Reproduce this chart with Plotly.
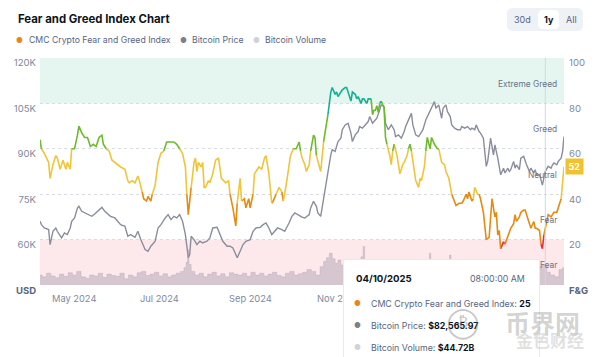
import plotly.graph_objects as go
import pandas as pd

# ---------------- data ----------------
DAY0 = "2024-04-24"          # first day shown (1y window)
X_END = "2025-04-23"

# CMC Crypto Fear & Greed index: day offset from DAY0 and value
fg_day = [0, 1, 3, 6, 7, 9, 11, 12, 14, 16,
          18, 19, 21, 22, 24, 26, 27, 29, 31, 33,
          35, 37, 39, 41, 43, 44, 46, 48, 50, 52,
          54, 56, 59, 61, 62, 64, 66, 68, 69, 71,
          72, 74, 75, 77, 78, 80, 82, 84, 86, 88,
          90, 93, 95, 97, 99, 101, 102, 103, 105, 107,
          108, 109, 110, 112, 113, 114, 115, 117, 118, 120,
          122, 124, 126, 129, 131, 132, 134, 136, 137, 139,
          140, 142, 143, 145, 146, 148, 149, 152, 154, 156,
          157, 159, 161, 162, 164, 166, 168, 169, 171, 174,
          176, 178, 180, 181, 182, 184, 185, 187, 188, 190,
          191, 192, 194, 195, 197, 199, 200, 202, 203, 205,
          206, 207, 209, 210, 212, 213, 214, 216, 217, 219,
          220, 221, 223, 224, 225, 227, 228, 230, 231, 232,
          233, 234, 235, 236, 237, 239, 240, 241, 243, 244,
          245, 246, 248, 249, 250, 252, 253, 255, 256, 257,
          258, 260, 261, 263, 264, 265, 267, 268, 269, 271,
          272, 274, 276, 277, 279, 281, 282, 284, 285, 286,
          288, 289, 291, 293, 294, 296, 297, 298, 300, 301,
          302, 304, 305, 306, 308, 309, 310, 312, 313, 314,
          316, 317, 318, 319, 320, 322, 323, 325, 326, 327,
          329, 330, 331, 333, 334, 336, 337, 338, 340, 341,
          343, 344, 345, 347, 348, 349, 350, 351, 353, 355,
          356, 357, 359, 360, 362, 363, 364]
fg_val = [64, 60, 58, 54, 47, 53, 57, 56, 51, 55,
          51, 54, 51, 60, 60, 66, 70, 67, 65, 65,
          61, 62, 61, 65, 66, 62, 60, 59, 55, 54,
          53, 52, 51, 46, 45, 46, 45, 48, 46, 41,
          38, 37, 39, 37, 40, 44, 54, 58, 59, 63,
          63, 63, 62, 60, 58, 52, 40, 31, 43, 54,
          56, 50, 54, 52, 54, 43, 43, 46, 45, 49,
          55, 56, 47, 45, 46, 40, 34, 26, 36, 47,
          37, 38, 34, 38, 34, 40, 49, 52, 51, 56,
          57, 49, 36, 37, 40, 43, 41, 37, 44, 57,
          60, 60, 63, 59, 56, 53, 50, 53, 59, 66,
          65, 57, 53, 50, 63, 72, 75, 85, 87, 84,
          85, 83, 85, 86, 87, 87, 85, 81, 85, 84,
          82, 83, 80, 82, 82, 80, 82, 82, 75, 77,
          77, 79, 76, 80, 81, 78, 65, 62, 57, 53,
          59, 62, 57, 53, 49, 53, 54, 57, 60, 62,
          59, 50, 46, 43, 47, 46, 52, 59, 65, 60,
          65, 62, 60, 60, 54, 53, 50, 47, 43, 40,
          36, 35, 36, 36, 37, 40, 38, 41, 37, 38,
          43, 40, 40, 38, 32, 24, 20, 21, 30, 38,
          30, 32, 22, 24, 16, 19, 18, 22, 24, 25,
          27, 31, 28, 30, 32, 33, 33, 31, 27, 25,
          28, 25, 25, 24, 18, 16, 22, 25, 31, 30,
          31, 32, 32, 34, 38, 45, 52]

# Bitcoin price (USD)
btc_day = [0, 1, 3, 6, 7, 9, 11, 12, 15, 17,
           19, 21, 22, 24, 26, 27, 29, 31, 33, 36,
           38, 40, 43, 45, 47, 49, 52, 54, 56, 59,
           61, 63, 66, 68, 70, 73, 75, 77, 80, 82,
           84, 87, 89, 91, 93, 95, 97, 99, 101, 103,
           104, 105, 107, 109, 111, 113, 116, 118, 120, 123,
           125, 127, 130, 132, 134, 137, 139, 141, 143, 146,
           148, 150, 153, 155, 157, 159, 161, 163, 165, 168,
           170, 173, 175, 177, 179, 182, 184, 187, 188, 190,
           192, 193, 195, 197, 198, 200, 202, 203, 205, 207,
           209, 210, 212, 214, 216, 217, 219, 221, 222, 224,
           226, 228, 229, 231, 232, 234, 236, 237, 239, 240,
           242, 244, 246, 247, 249, 251, 253, 254, 256, 258,
           259, 261, 263, 265, 266, 268, 270, 272, 273, 274,
           275, 277, 279, 280, 282, 283, 285, 286, 288, 290,
           292, 293, 295, 297, 299, 300, 302, 303, 305, 306,
           308, 309, 310, 311, 312, 313, 315, 316, 318, 319,
           320, 322, 323, 325, 326, 327, 329, 330, 331, 333,
           334, 336, 337, 338, 340, 341, 343, 344, 345, 347,
           348, 349, 350, 351, 353, 355, 356, 357, 359, 360,
           362, 363, 364]
btc_val = [66050, 64950, 63850, 63300, 58350, 62750, 63850, 62750, 60550, 62200,
           61650, 63850, 66050, 67150, 70450, 71000, 69350, 68800, 68450, 67700,
           68450, 69350, 70650, 69350, 68450, 67700, 67150, 66050, 64950, 64400,
           61100, 61650, 60750, 62750, 60000, 56700, 56150, 57800, 59450, 63850,
           64950, 67150, 68250, 66600, 67700, 67150, 68250, 66050, 61650, 54000,
           55050, 61100, 60000, 58350, 59450, 58900, 59450, 60550, 63850, 64050,
           61650, 59450, 57800, 57800, 57250, 54000, 56150, 58350, 59450, 60000,
           62750, 63850, 64050, 64950, 65500, 63850, 61650, 62750, 63850, 63300,
           62750, 65500, 67700, 68800, 68250, 67400, 67150, 68250, 70450, 72650,
           71000, 68800, 67700, 73750, 77050, 82550, 88000, 89700, 89100, 92400,
           93500, 96300, 97900, 98450, 95200, 92400, 94600, 95700, 97350, 96800,
           97900, 99000, 100650, 98450, 99000, 100100, 102850, 104500, 104000, 98450,
           96300, 97900, 96300, 94050, 94600, 93500, 95700, 97350, 99550, 101700,
           97900, 94600, 94050, 95700, 96300, 99550, 101700, 104000, 104500, 105600,
           103400, 104500, 100100, 103400, 104500, 102300, 100650, 97900, 96800, 96300,
           96300, 97350, 96800, 97350, 96300, 96800, 96300, 97900, 95700, 95200,
           93500, 89100, 84200, 85850, 89100, 93500, 88000, 91300, 86900, 84700,
           81400, 83600, 82000, 83600, 82550, 83100, 85850, 83600, 84700, 83100,
           86900, 87500, 85850, 84700, 82550, 83600, 82000, 83100, 81400, 81400,
           79750, 78000, 80300, 82565.97, 84200, 83600, 84700, 85300, 84700, 85850,
           86900, 89100, 94050]

# Bitcoin volume (billions USD)
vol_day = [0, 3, 6, 9, 12, 15, 18, 21, 24, 27,
           30, 33, 36, 39, 42, 45, 48, 51, 54, 57,
           60, 63, 66, 69, 72, 75, 78, 81, 84, 87,
           90, 93, 96, 99, 101, 102, 103, 104, 106, 109,
           112, 115, 118, 121, 124, 127, 130, 133, 136, 139,
           142, 145, 148, 151, 154, 157, 160, 163, 166, 169,
           172, 175, 178, 181, 184, 187, 190, 193, 196, 198,
           200, 202, 204, 206, 208, 210, 212, 214, 217, 220,
           222, 224, 225, 226, 228, 231, 234, 237, 240, 243,
           246, 249, 252, 255, 258, 261, 264, 267, 270, 271,
           272, 275, 278, 281, 284, 285, 286, 289, 292, 295,
           298, 301, 304, 307, 309, 312, 315, 318, 321, 324,
           327, 330, 333, 336, 339, 342, 345, 347, 348, 350,
           351, 353, 356, 359, 362, 364]
vol_bn = [22, 18, 26, 20, 16, 24, 19, 27, 22, 30,
          18, 15, 22, 20, 26, 17, 24, 21, 19, 26,
          14, 22, 18, 27, 30, 21, 24, 28, 20, 25,
          18, 22, 26, 30, 38, 50, 78, 45, 30, 22,
          26, 18, 24, 28, 20, 25, 18, 27, 24, 22,
          26, 19, 28, 22, 26, 20, 24, 28, 21, 18,
          26, 30, 22, 25, 28, 34, 30, 22, 40, 52,
          60, 70, 58, 48, 55, 44, 50, 40, 46, 38,
          50, 62, 85, 55, 42, 48, 36, 44, 52, 30,
          34, 28, 30, 36, 40, 34, 30, 36, 50, 70,
          48, 34, 38, 30, 44, 66, 48, 32, 28, 22,
          24, 20, 30, 45, 52, 40, 38, 34, 26, 30,
          22, 20, 18, 24, 20, 22, 28, 34, 40, 44,
          44.72, 28, 22, 18, 34, 38]

x_tick_dates = ["2024-05-01", "2024-07-01", "2024-09-01", "2024-11-01", "2025-01-01", "2025-03-01"]
x_tick_text = ["May 2024", "Jul 2024", "Sep 2024", "Nov 2024", "Jan 2025", "Mar 2025"]
price_ticks = [60000, 75000, 90000, 105000, 120000]
price_tick_text = ["60K", "75K", "90K", "105K", "120K"]
fg_ticks = [20, 40, 60, 80, 100]
band_edges = [0, 20, 40, 60, 80, 100]
band_names = ["Extreme Fear", "Fear", "Neutral", "Greed", "Extreme Greed"]
band_colors = ["#e3313c", "#e38b13", "#efc53a", "#6dbb2d", "#16b093"]

hover_date = "2025-04-10"
hover_date_text = "04/10/2025"
hover_time = "08:00:00 AM"
hover_fg = 25
hover_price = "$82,565.97"
hover_vol = "$44.72B"
current_fg = 52

# ---------------- helpers ----------------
FONT = "Inter"
C_DARK = "#0d1421"
C_GREY = "#58667e"
C_TICK = "#808a9d"
C_FG = "#e8861a"
C_PRICE = "#8a8e9c"
C_VOL = "#cfd2da"

W, H = 600, 357
ML, MR, MT, MB = 40, 36, 58, 72
PW, PH = W - ML - MR, H - MT - MB


def px2x(px):
    return (px - ML) / PW


def py2y(py):
    return (H - MB - py) / PH


def to_dates(days):
    return list(pd.Timestamp(DAY0) + pd.to_timedelta(days, unit="D"))


fg_x = to_dates(fg_day)
btc_x = to_dates(btc_day)
vol_x = to_dates(vol_day)


def band_of(v):
    for i in range(len(band_names)):
        if v < band_edges[i + 1]:
            return i
    return len(band_names) - 1


fig = go.Figure()

# volume (hidden axis y2)
fig.add_trace(go.Scatter(
    x=vol_x, y=vol_bn, yaxis="y2", mode="lines", line=dict(width=0.6, color="rgba(160,150,168,0.45)", shape="hvh"),
    fill="tozeroy", fillcolor="rgba(160,150,168,0.42)", hoverinfo="skip", showlegend=False))

# bitcoin price (y)
fig.add_trace(go.Scatter(
    x=btc_x, y=btc_val, yaxis="y", mode="lines", line=dict(width=1.4, color=C_PRICE),
    hoverinfo="skip", showlegend=False))

# fear & greed line coloured by band (y3)
seg_x = {b: [] for b in range(5)}
seg_y = {b: [] for b in range(5)}
last_end = {b: None for b in range(5)}
for i in range(len(fg_val) - 1):
    b = band_of((fg_val[i] + fg_val[i + 1]) / 2)
    if last_end[b] == i:
        seg_x[b].append(fg_x[i + 1])
        seg_y[b].append(fg_val[i + 1])
    else:
        if seg_x[b]:
            seg_x[b].append(None)
            seg_y[b].append(None)
        seg_x[b] += [fg_x[i], fg_x[i + 1]]
        seg_y[b] += [fg_val[i], fg_val[i + 1]]
    last_end[b] = i + 1
for b in range(5):
    fig.add_trace(go.Scatter(
        x=seg_x[b], y=seg_y[b], yaxis="y3", mode="lines", connectgaps=False,
        line=dict(width=1.6, color=band_colors[b]), hoverinfo="skip", showlegend=False))

# ---------------- shapes ----------------
shapes = [
    dict(type="rect", xref="paper", yref="y3", x0=0, x1=1, y0=band_edges[4], y1=band_edges[5],
         fillcolor="#e5f6f0", line=dict(width=0), layer="below"),
    dict(type="rect", xref="paper", yref="y3", x0=0, x1=1, y0=band_edges[0], y1=band_edges[1],
         fillcolor="#fde9ec", line=dict(width=0), layer="below"),
    dict(type="line", xref="x", yref="paper", x0=hover_date, x1=hover_date, y0=0, y1=1,
         line=dict(color="#d3d7de", width=1), layer="above"),
]


def rrect(x0, y0, x1, y1, r):
    pts = [("M", x0 + r, y0), ("L", x1 - r, y0), ("Q", x1, y0, x1, y0 + r), ("L", x1, y1 - r),
           ("Q", x1, y1, x1 - r, y1), ("L", x0 + r, y1), ("Q", x0, y1, x0, y1 - r), ("L", x0, y0 + r),
           ("Q", x0, y0, x0 + r, y0)]
    out = []
    for p in pts:
        cmd = p[0]
        coords = p[1:]
        s = " ".join(f"{px2x(coords[k]):.5f},{py2y(coords[k + 1]):.5f}" for k in range(0, len(coords), 2))
        out.append(f"{cmd} {s}")
    return " ".join(out) + " Z"


shapes.append(dict(type="path", xref="paper", yref="paper", path=rrect(507, 8, 583, 31, 6),
                   fillcolor="#eef1f5", line=dict(width=0)))
shapes.append(dict(type="path", xref="paper", yref="paper", path=rrect(538, 10, 559, 29, 5),
                   fillcolor="#ffffff", line=dict(width=0)))


# ---------------- annotations ----------------
def ann(text, px, py, size=9.5, color=C_GREY, xanchor="left", family=FONT, **kw):
    d = dict(xref="paper", yref="paper", x=px2x(px), y=py2y(py), text=text, showarrow=False,
             xanchor=xanchor, yanchor="middle", font=dict(family=family, size=size, color=color))
    d.update(kw)
    return d


annotations = []
# title + legend
annotations.append(ann("<b>Fear and Greed Index Chart</b>", 16, 19.5, size=11.4, color=C_DARK))
for dot_px, txt_px, col, label in [(19, 27, C_FG, "CMC Crypto Fear and Greed Index"),
                                   (183, 190, "#7b7f8e", "Bitcoin Price"),
                                   (256, 263, C_VOL, "Bitcoin Volume")]:
    annotations.append(ann("●", dot_px, 40, size=7.5, color=col, xanchor="center"))
    annotations.append(ann(label, txt_px, 40, size=8.7, color=C_GREY))
# range buttons
annotations.append(ann("30d", 522, 19.5, size=9, color=C_GREY, xanchor="center"))
annotations.append(ann("<b>1y</b>", 548.5, 19.5, size=9, color=C_DARK, xanchor="center"))
annotations.append(ann("All", 571, 19.5, size=9, color=C_GREY, xanchor="center"))
# axis unit labels
annotations.append(ann("<b>USD</b>", 38, 290, size=9.5, color=C_GREY, xanchor="right"))
annotations.append(ann("<b>F&G</b>", 567, 290, size=9.5, color=C_GREY, xanchor="left"))
# x tick labels (left aligned at the month start)
for d, t in zip(x_tick_dates, x_tick_text):
    annotations.append(dict(xref="x", yref="paper", x=d, y=0, yanchor="top", xanchor="left", yshift=-6,
                            text=t, showarrow=False, font=dict(family=FONT, size=9.3, color=C_TICK)))
# band labels
for i, name in enumerate(band_names):
    mid = (band_edges[i] + band_edges[i + 1]) / 2
    annotations.append(dict(xref="paper", yref="y3", x=1, y=mid, xanchor="right", yanchor="middle",
                            xshift=-5, yshift=-3, text=name, showarrow=False,
                            font=dict(family=FONT, size=8.4, color="#6b7384")))
# current value badge
annotations.append(dict(xref="paper", yref="y3", x=1, y=current_fg, xanchor="left", yanchor="middle",
                        xshift=1, text=f"<b>{current_fg}</b>", showarrow=False, bgcolor="#f2c12e",
                        borderpad=2, width=13, font=dict(family=FONT, size=9, color="#ffffff")))
# tooltip box
annotations.append(dict(xref="paper", yref="paper", x=px2x(343), y=py2y(259), xanchor="left", yanchor="top",
                        text=" ", showarrow=False, width=195, height=100, bgcolor="#ffffff",
                        bordercolor="#e8eaef", borderwidth=1, borderpad=0, font=dict(size=10)))
annotations.append(ann(f"<b>{hover_date_text}</b>", 354, 278, size=9.6, color=C_DARK))
annotations.append(ann(hover_time, 527, 278, size=8.8, color=C_GREY, xanchor="right"))
rows = [(C_FG, "CMC Crypto Fear and Greed Index: ", f"{hover_fg}", 303),
        ("#7b7f8e", "Bitcoin Price: ", hover_price, 325),
        (C_VOL, "Bitcoin Volume: ", hover_vol, 347)]
for col, lab, val, py in rows:
    annotations.append(ann("●", 357, py, size=7.5, color=col, xanchor="center"))
    annotations.append(ann(f"{lab}<b><span style='color:{C_DARK}'>{val}</span></b>", 369, py, size=8.8,
                           color=C_GREY))
# watermark
CJK = "Noto Sans CJK SC"
annotations.append(ann("◯", 463, 322, size=30, color="rgba(110,110,110,0.38)", xanchor="center", family="DejaVu Sans"))
annotations.append(ann("₿", 463, 322, size=15, color="rgba(110,110,110,0.42)", xanchor="center", family="DejaVu Sans"))
annotations.append(ann("<b>币界网</b>", 542, 322, size=25, color="rgba(120,120,120,0.32)", xanchor="center", family=CJK))
annotations.append(ann("<b>金色财经</b>", 550, 339, size=17, color="rgba(200,200,200,0.55)", xanchor="center", family=CJK))

fig.update_layout(
    width=W, height=H, autosize=False,
    margin=dict(l=ML, r=MR, t=MT, b=MB, pad=0),
    paper_bgcolor="#ffffff", plot_bgcolor="#ffffff",
    font=dict(family=FONT, color=C_GREY),
    showlegend=False, hovermode=False,
    xaxis=dict(type="date", range=[DAY0, X_END], showgrid=False, zeroline=False, showline=False,
               showticklabels=False, ticks="", fixedrange=True),
    yaxis=dict(range=[45000, 120000], tickvals=price_ticks, ticktext=price_tick_text, showgrid=True,
               gridcolor="#d9dde3", griddash="dot", gridwidth=1, zeroline=False, showline=False, ticks="",
               tickfont=dict(family=FONT, size=9.6, color=C_TICK), ticklabelshift=5, ticklabelstandoff=3,
               fixedrange=True),
    yaxis2=dict(range=[0, 500], overlaying="y", visible=False, fixedrange=True),
    yaxis3=dict(range=[0, 100], overlaying="y", side="right", tickvals=fg_ticks, showgrid=False,
                zeroline=False, showline=False, ticks="", tickfont=dict(family=FONT, size=9.6, color=C_TICK),
                ticklabelshift=5, ticklabelstandoff=4, fixedrange=True),
    shapes=shapes,
    annotations=annotations,
)

fig.write_html("out.html", config={"displayModeBar": False},
               post_script="document.body.style.margin='0';document.body.style.overflow='hidden';")
